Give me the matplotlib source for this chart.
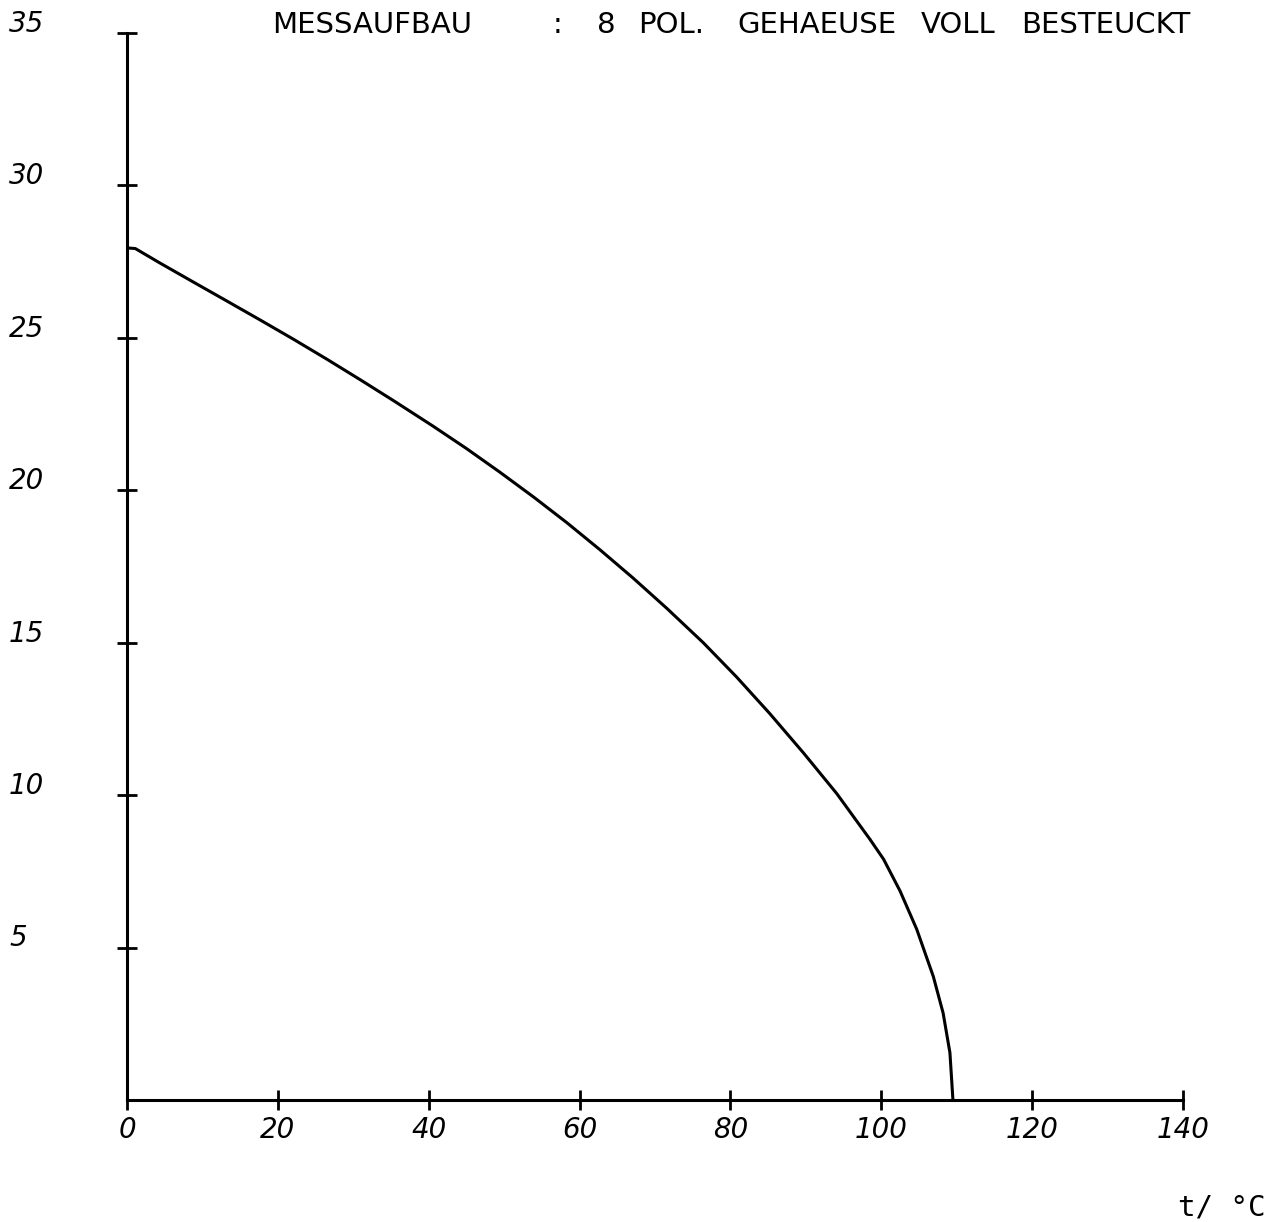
import numpy as np
import matplotlib
matplotlib.use("Agg")
from matplotlib import pyplot as plt
from matplotlib import transforms

# values
temps = [0.0, 1.1, 4.4, 8.8, 13.3, 17.7, 22.1, 26.5, 30.9, 35.4, 40.6, 45.0,
         49.4, 53.9, 58.3, 62.7, 67.1, 71.6, 76.4, 80.8, 85.2, 89.7, 94.1,
         98.5, 100.3, 102.5, 104.7, 106.9, 108.2, 109.1, 109.5]
values = [27.95, 27.93, 27.45, 26.83, 26.2, 25.58, 24.95, 24.3, 23.63, 22.93,
          22.1, 21.37, 20.6, 19.78, 18.94, 18.05, 17.12, 16.12, 15.0, 13.88,
          12.68, 11.38, 10.05, 8.55, 7.9, 6.85, 5.6, 4.05, 2.85, 1.55, 0.0]

x_ticks = [0, 20, 40, 60, 80, 100, 120, 140]
y_ticks = [5, 10, 15, 20, 25, 30, 35]
title_words = ["MESSAUFBAU", ":", "8", "POL.", "GEHAEUSE", "VOLL", "BESTEUCKT"]
title_pos = [272, 553, 597, 638, 737, 921, 1021]
x_unit = "t/ °C"

W, H = 1282, 1222
fig = plt.figure(figsize=(W / 100, H / 100), dpi=100)
ax = fig.add_axes([127 / W, 1 - 1100 / H, (1183 - 127) / W, (1100 - 33) / H])

ax.plot(temps, values, color="black", lw=2.2, solid_joinstyle="round")
ax.set_xlim(0, 140)
ax.set_ylim(0, 35)

for s in ["top", "right"]:
    ax.spines[s].set_visible(False)
for s in ["left", "bottom"]:
    ax.spines[s].set_linewidth(2.2)

ax.set_xticks(x_ticks)
ax.set_yticks(y_ticks)
ax.tick_params(axis="both", direction="inout", length=14, width=2, labelleft=False,
               labelbottom=False)

font = dict(family="DejaVu Sans", fontstyle="oblique", color="black")

# x tick labels
for t in x_ticks:
    ax.text(t, -1.0, str(t), ha="center", va="center", fontsize=20, **font)

# y tick labels, left aligned at the paper edge
trans = transforms.blended_transform_factory(fig.transFigure, ax.transData)
for v in y_ticks:
    ax.text(9 / W, v + 0.3, str(v), transform=trans, ha="left", va="center",
            fontsize=20, **font)

for word, px in zip(title_words, title_pos):
    fig.text(px / W, 1 - 25 / H, word, ha="left", va="center", fontsize=21,
             family="DejaVu Sans")
fig.text(1265 / W, 1 - 1208 / H, x_unit, ha="right", va="center", fontsize=21,
         family="DejaVu Sans Mono")

fig.savefig("out.png", dpi=100)
